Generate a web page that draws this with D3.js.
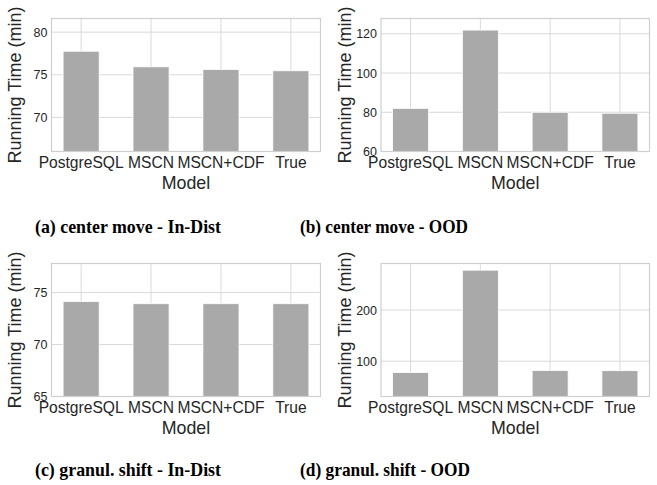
<!DOCTYPE html>
<html>
<head>
<meta charset="utf-8">
<script src="https://cdn.jsdelivr.net/npm/d3@7"></script>
<style>
  html, body { margin: 0; padding: 0; background: #ffffff; }
  svg { display: block; }
</style>
</head>
<body>
<svg id="chart" width="657" height="485"></svg>
<script>
// ---- data ----
const categories = ["PostgreSQL", "MSCN", "MSCN+CDF", "True"];
const centerMoveInDist = [77.76, 75.93, 75.63, 75.47];
const centerMoveOOD = [82.0, 121.9, 80.0, 79.5];
const granulShiftInDist = [74.14, 73.93, 73.93, 73.93];
const granulShiftOOD = [77.8, 278, 82.0, 81.5];
const yLimitsA = [66.0, 81.6];
const yLimitsB = [60, 127.8];
const yLimitsC = [65, 77.8];
const yLimitsD = [31, 291];
const yTicksA = [70, 75, 80];
const yTicksB = [60, 80, 100, 120];
const yTicksC = [65, 70, 75];
const yTicksD = [100, 200];
const captions = ["(a) center move - In-Dist", "(b) center move - OOD",
                  "(c) granul. shift - In-Dist", "(d) granul. shift - OOD"];
const xLabel = "Model";
const yLabel = "Running Time (min)";

// ---- layout ----
const panels = [
  {values: centerMoveInDist, lim: yLimitsA, ticks: yTicksA, caption: captions[0],
   left: 51.5, right: 320.5, top: 18.5, bottom: 151.5, ylabX: 21, capX: 35, capY: 232.5, capW: 186},
  {values: centerMoveOOD, lim: yLimitsB, ticks: yTicksB, caption: captions[1],
   left: 381, right: 649.5, top: 18.5, bottom: 151.5, ylabX: 351, capX: 300, capY: 232.5, capW: 168},
  {values: granulShiftInDist, lim: yLimitsC, ticks: yTicksC, caption: captions[2],
   left: 51.5, right: 320.5, top: 263.5, bottom: 396.5, ylabX: 21, capX: 35, capY: 476, capW: 186},
  {values: granulShiftOOD, lim: yLimitsD, ticks: yTicksD, caption: captions[3],
   left: 381, right: 649.5, top: 263.5, bottom: 396.5, ylabX: 351, capX: 300, capY: 476, capW: 170}
];

const svg = d3.select("#chart");
const sansFont = "'Liberation Sans', Arial, sans-serif";
const gridColor = "#d9d9d9";
const frameColor = "#cfcfcf";
const textColor = "#262626";
const barColor = "#a9a9a9";

panels.forEach(p => {
  const g = svg.append("g");
  const x = d3.scaleBand().domain(categories).range([p.left, p.right])
    .paddingInner(0.484).paddingOuter(0.166);
  const y = d3.scaleLinear().domain(p.lim).range([p.bottom, p.top]);

  // grid
  g.append("g").selectAll("line.h").data(p.ticks).join("line")
    .attr("x1", p.left).attr("x2", p.right)
    .attr("y1", d => y(d)).attr("y2", d => y(d))
    .attr("stroke", gridColor).attr("stroke-width", 1);
  g.append("g").selectAll("line.v").data(categories).join("line")
    .attr("x1", d => x(d) + x.bandwidth() / 2).attr("x2", d => x(d) + x.bandwidth() / 2)
    .attr("y1", p.top).attr("y2", p.bottom)
    .attr("stroke", gridColor).attr("stroke-width", 1);

  // bars
  g.append("g").selectAll("rect").data(categories).join("rect")
    .attr("x", d => x(d))
    .attr("width", x.bandwidth())
    .attr("y", (d, i) => y(p.values[i]))
    .attr("height", (d, i) => p.bottom - y(p.values[i]))
    .attr("fill", barColor)
    .attr("stroke", "#ffffff").attr("stroke-width", 0.8);

  // frame
  g.append("rect")
    .attr("x", p.left).attr("y", p.top)
    .attr("width", p.right - p.left).attr("height", p.bottom - p.top)
    .attr("fill", "none").attr("stroke", frameColor).attr("stroke-width", 1.2);

  // y axis
  const ya = g.append("g").attr("transform", `translate(${p.left},0)`)
    .call(d3.axisLeft(y).tickValues(p.ticks).tickSize(0).tickPadding(4).tickFormat(d3.format("d")));
  ya.select(".domain").remove();
  ya.selectAll("text").attr("font-family", sansFont).attr("font-size", 12.5).attr("fill", textColor);

  // x axis
  const xa = g.append("g").attr("transform", `translate(0,${p.bottom})`)
    .call(d3.axisBottom(x).tickSize(0).tickPadding(4));
  xa.select(".domain").remove();
  xa.selectAll("text").attr("font-family", sansFont).attr("font-size", 15.6).attr("fill", textColor)
    .attr("dy", null).attr("y", 16).attr("dominant-baseline", "alphabetic");

  // axis labels
  g.append("text")
    .attr("x", (p.left + p.right) / 2).attr("y", p.bottom + 37.5)
    .attr("text-anchor", "middle")
    .attr("font-family", sansFont).attr("font-size", 17.8).attr("fill", textColor)
    .text(xLabel);
  g.append("text")
    .attr("transform", `translate(${p.ylabX},${(p.top + p.bottom) / 2}) rotate(-90)`)
    .attr("text-anchor", "middle")
    .attr("font-family", sansFont).attr("font-size", 18).attr("fill", textColor)
    .text(yLabel);

  // caption
  svg.append("text")
    .attr("x", p.capX).attr("y", p.capY)
    .attr("font-family", "'Liberation Serif', 'Times New Roman', serif")
    .attr("font-weight", "bold").attr("font-size", 19).attr("fill", "#000")
    .attr("textLength", p.capW).attr("lengthAdjust", "spacingAndGlyphs")
    .text(p.caption);
});
</script>
</body>
</html>
